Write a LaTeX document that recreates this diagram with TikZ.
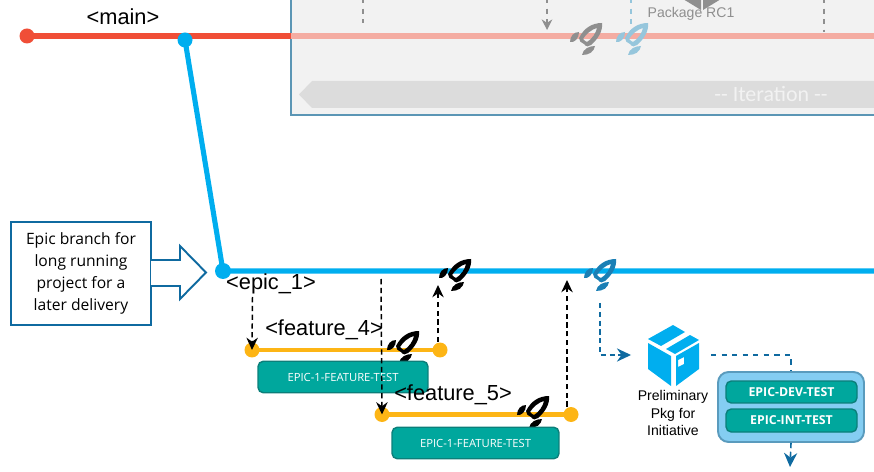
\documentclass[tikz,border=0pt]{standalone}
\usepackage{fontspec}
\setmainfont{Liberation Sans}
\newfontfamily\calloutfont{Open Sans}
\newfontfamily\bandfont{Carlito}
\usepackage{xcolor}
\usetikzlibrary{arrows.meta,positioning,calc}

\definecolor{mainred}{HTML}{F04E37}
\definecolor{fadedred}{HTML}{F4ACA2}
\definecolor{epicblue}{HTML}{00AEEF}
\definecolor{featyellow}{HTML}{FDB515}
\definecolor{envteal}{HTML}{00A79D}
\definecolor{envedge}{HTML}{0B7F7A}
\definecolor{darkblue}{HTML}{0F6AA0}
\definecolor{rocketblue}{HTML}{1A7FB5}
\definecolor{fadedblue}{HTML}{96C6DC}
\definecolor{framefill}{HTML}{F2F2F2}
\definecolor{frameedge}{HTML}{5B96B5}
\definecolor{bandgray}{HTML}{DCDCDC}
\definecolor{fadedgray}{HTML}{8F8F8F}
\definecolor{envbox}{HTML}{84CDF2}
\definecolor{envboxedge}{HTML}{5A9BBD}

\tikzset{
    branchdot/.style={circle,fill=#1,inner sep=0pt,minimum size=0.3cm},
    branchlabel/.style={font=\fontsize{12.4}{14}\selectfont,inner sep=0pt},
    envlabel/.style={draw=envedge,line width=0.8pt,fill=envteal,rounded corners=3pt,text=white,
        font=\calloutfont\fontsize{6.4}{8}\selectfont,inner sep=0pt},
    mergeflow/.style={densely dashed,line width=0.85pt,-{Stealth[length=7pt,width=6.5pt]}},
    pkgflow/.style={densely dashed,darkblue,line width=0.9pt,-{Stealth[length=8pt,width=7.5pt]}},
    grayflow/.style={dashed,fadedgray,line width=0.85pt},
    pics/rocket/.style={code={
        % body with a hollow middle, then the two fins
        \fill[#1,even odd rule] (16,-16) .. controls (6,-16) and (-2,-11) .. (-7,-1)
            .. controls (-7,2) and (-5,4) .. (-2,5) .. controls (0,8) and (3,8) .. (5,6)
            .. controls (12,0) and (17,-8) .. (16,-16) -- cycle
            (11,-11) .. controls (6,-10) and (0,-5) .. (-3,0)
            .. controls (-2,1) and (0,3) .. (1,3) .. controls (6,0) and (10,-6) .. (11,-11) -- cycle;
        \fill[#1] (-7,-7) .. controls (-12,-7) and (-16,-3) .. (-16,3)
            .. controls (-11,4) and (-7,-1) .. (-7,-7) -- cycle;
        \fill[#1] (9,7) .. controls (3,7) and (-3,10) .. (-4,16)
            .. controls (3,16) and (8,13) .. (9,7) -- cycle;
    }}
}

\begin{document}
\begin{tikzpicture}[x=0.02cm,y=-0.02cm]
    \useasboundingbox (0,0) rectangle (874,472);
    \clip (0,0) rectangle (874,472);

    % Faded iteration frame
    \fill[framefill] (291,-10) rectangle (884,115);
    \draw[frameedge,line width=1.3pt] (291,-10) -- (291,115) -- (884,115);
    \fill[bandgray] (299,94.5) -- (312,81) -- (874,81) -- (874,108) -- (312,108) -- cycle;
    \node[text=framefill,font=\bandfont\fontsize{12.5}{14}\selectfont,inner sep=0pt] (iterlabel) at (771,94) {-- Iteration --};

    % Main branch
    \node[branchdot=mainred] (mainstart) at (27,36) {};
    \coordinate (mainframe) at (291,36);
    \coordinate (mainend) at (874,36);
    \draw[mainred,line width=2.9pt] (mainstart.center) -- (mainframe);
    \draw[fadedred,line width=2.9pt] (mainframe) -- (mainend);
    \node[branchlabel] (mainlabel) at (123,17) {<main>};

    % Faded flows above the main line
    \foreach \xpos/\yend in {363/23,824/32} {
        \draw[grayflow] (\xpos,-2) -- (\xpos,\yend);
    }
    \draw[grayflow,-{Stealth[length=6pt,width=6pt]}] (547,-2) -- (547,30);
    \draw[dashed,fadedblue,line width=0.85pt] (631,-2) -- (631,30);
    \fill[fadedgray] (683,-1) -- (701,-1) -- (701,10) -- cycle;
    \fill[fadedgray] (721,-1) -- (703,-1) -- (703,10) -- cycle;
    \node[text=fadedgray,font=\fontsize{8}{10}\selectfont,inner sep=0pt] (rclabel) at (691,14) {Package RC1};
    \pic at (586,39) {rocket=fadedgray};
    \pic at (632,39) {rocket=fadedblue};

    % Epic branch
    \node[branchdot=epicblue] (epicfork) at (185,40) {};
    \node[branchdot=epicblue,minimum size=0.32cm] (epicstart) at (223,271) {};
    \coordinate (epicend) at (874,271);
    \draw[epicblue,line width=2.9pt,line join=round] (epicfork.center) -- (epicstart.center) -- (epicend);
    \node[branchlabel] (epiclabel) at (271,284) {<epic\_1>};
    \pic at (455,275) {rocket=black};
    \pic at (600,275) {rocket=rocketblue};

    % Callout
    \node[draw=darkblue,line width=1.1pt,fill=white,minimum width=2.8cm,minimum height=2.06cm,align=center,
        font=\calloutfont\fontsize{8.9}{12.4}\selectfont,inner sep=0pt] (callout) at (81,273.5)
        {Epic branch for\\long running\\project for a\\later delivery};
    \draw[darkblue,line width=1.1pt,fill=white] (151,260) -- (180,260) -- (180,246) -- (206,272.5)
        -- (180,299) -- (180,286) -- (151,286);

    % Feature branches
    \node[branchdot=featyellow] (featfourstart) at (252,350) {};
    \node[branchdot=featyellow] (featfourend) at (440,350) {};
    \draw[featyellow,line width=2.7pt] (featfourstart.center) -- (featfourend.center);
    \node[branchlabel] (featfourlabel) at (324,330) {<feature\_4>};
    \pic at (403,347) {rocket=black};
    \node[envlabel,minimum width=3.4cm,minimum height=0.63cm] (featfourenv) at (343,377) {EPIC-1-FEATURE-TEST};

    \node[branchdot=featyellow] (featfivestart) at (382,414.5) {};
    \node[branchdot=featyellow] (featfiveend) at (571,414.5) {};
    \draw[featyellow,line width=2.7pt] (featfivestart.center) -- (featfiveend.center);
    \node[branchlabel] (featfivelabel) at (453,395) {<feature\_5>};
    \pic at (533,412) {rocket=black};
    \node[envlabel,minimum width=3.34cm,minimum height=0.63cm] (featfiveenv) at (475.5,443) {EPIC-1-FEATURE-TEST};

    % Merges between epic and features
    \coordinate (forkfour) at (252.5,297);
    \coordinate (forkfive) at (381,279);
    \coordinate (mergefour) at (438,285);
    \coordinate (mergefive) at (567,280);
    \draw[mergeflow] (forkfour) -- (featfourstart.center);
    \draw[mergeflow] (forkfive) -- (featfivestart.center);
    \draw[mergeflow] (featfourend.north -| mergefour) -- (mergefour);
    \draw[mergeflow] (featfiveend.north -| mergefive) -- (mergefive);

    % Preliminary package
    \fill[epicblue] (673,325) -- (685,332) -- (661,346) -- (648,339) -- cycle;
    \fill[epicblue] (690,335) -- (699,340) -- (675,354) -- (666,349) -- cycle;
    \fill[epicblue] (648,343) -- (671,356) -- (671,386) -- (648,369) -- cycle;
    \fill[epicblue,even odd rule] (699,343) -- (676,356) -- (676,386) -- (699,369) -- cycle
        (678,360) -- (684,357) -- (684,364) -- (678,367) -- cycle;
    \coordinate (pkgin) at (631,355);
    \coordinate (pkgout) at (711,355);
    \coordinate (rocketdrop) at (600,303);
    \node[align=center,font=\fontsize{8}{9.9}\selectfont,inner sep=0pt] (pkglabel) at (673,413)
        {Preliminary\\Pkg for\\Initiative};

    % Environment group
    \node[draw=envboxedge,line width=1.1pt,fill=envbox,rounded corners=6pt,minimum width=2.92cm,minimum height=1.4cm,inner sep=0pt] (envgroup) at (791,407) {};
    \node[envlabel,font=\calloutfont\fontsize{7}{8}\selectfont\bfseries,minimum width=2.62cm,minimum height=0.44cm] (devenv) at (791.5,392) {EPIC-DEV-TEST};
    \node[envlabel,font=\calloutfont\fontsize{7}{8}\selectfont\bfseries,minimum width=2.62cm,minimum height=0.46cm] (intenv) at (791.5,420.5) {EPIC-INT-TEST};
    \coordinate (groupout) at (790,467);

    \draw[pkgflow] (rocketdrop) -- (rocketdrop |- pkgin) -- (pkgin);
    \draw[dashed,darkblue,line width=0.9pt] (pkgout) -- (pkgout -| envgroup) -- (envgroup.north);
    \draw[pkgflow] (envgroup.south) -- (groupout);
\end{tikzpicture}
\end{document}
